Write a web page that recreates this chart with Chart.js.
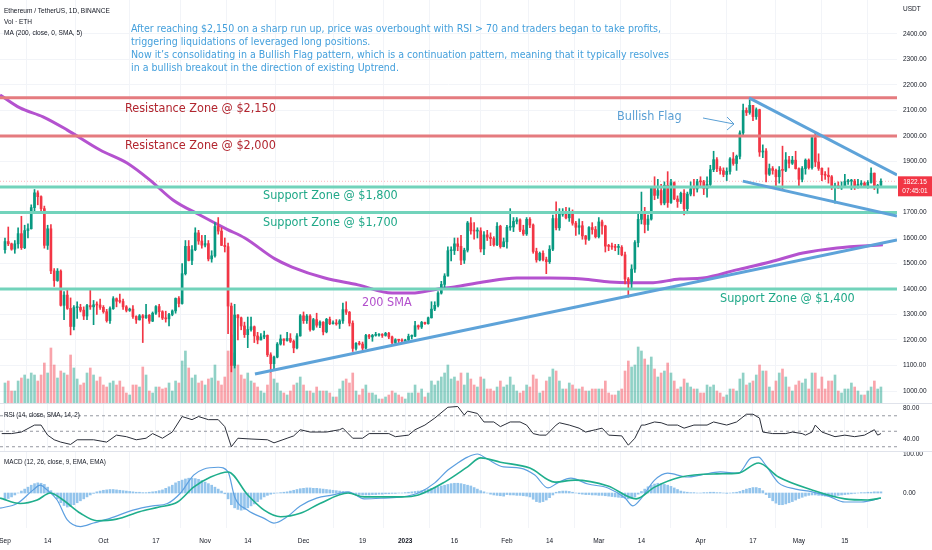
<!DOCTYPE html>
<html>
<head>
<meta charset="utf-8">
<script src="https://cdn.jsdelivr.net/npm/chart.js@4.4.1/dist/chart.umd.min.js"></script>
<style>
html,body{margin:0;padding:0;background:#fff;width:932px;height:550px;overflow:hidden}
.pane{position:absolute;left:0;width:932px}
#p1{top:0;height:403px}
#p2{top:403px;height:48px}
#p3{top:451px;height:99px}
.sep{position:absolute;left:0;width:932px;height:1px;background:#e0e3eb}
</style>
</head>
<body>
<div class="pane" id="p1"><canvas id="c1"></canvas></div>
<div class="pane" id="p2"><canvas id="c2"></canvas></div>
<div class="pane" id="p3"><canvas id="c3"></canvas></div>
<div class="sep" style="top:403px"></div>
<div class="sep" style="top:451px"></div>
<script>
// ---------------- DATA (ETH/USDT daily, 1 Sep 2022 = day 0 ... 26 May 2023 = day 267) ----------------
const firstOpen = 1554;
const closes = [
// Sep
1586,1577,1556,1577,1617,1562,1629,1636,1719,1777,1762,1715,1571,1636,1471,1433,1470,1336,1376,1324,1253,1327,1328,1317,1294,1335,1330,1338,1337,1328,
// Oct
1311,1276,1323,1362,1352,1351,1330,1316,1321,1292,1279,1295,1287,1297,1274,1305,1331,1311,1286,1283,1300,1314,1363,1343,1460,1567,1512,1554,1620,1588,1572,
// Nov
1578,1518,1530,1645,1627,1571,1566,1333,1100,1298,1287,1255,1221,1241,1252,1216,1200,1212,1218,1142,1107,1133,1184,1204,1198,1206,1195,1169,1216,1295,
// Dec
1276,1294,1241,1280,1258,1270,1232,1281,1264,1265,1263,1275,1319,1309,1266,1167,1187,1184,1168,1218,1212,1218,1219,1221,1218,1226,1212,1190,1201,1199,1196,
// Jan
1200,1214,1215,1256,1251,1269,1264,1287,1321,1336,1384,1418,1451,1550,1551,1577,1567,1513,1552,1659,1628,1627,1628,1557,1612,1603,1598,1573,1646,1566,1585,
// Feb
1642,1643,1665,1671,1631,1616,1673,1651,1547,1514,1540,1515,1507,1556,1676,1640,1693,1693,1679,1702,1658,1642,1648,1608,1595,1641,1633,1605,
// Mar
1663,1647,1568,1567,1565,1563,1563,1534,1439,1430,1478,1582,1673,1702,1653,1674,1796,1767,1786,1737,1806,1739,1817,1753,1743,1775,1715,1772,1793,1792,1821,
// Apr
1820,1793,1810,1868,1907,1872,1864,1849,1861,1910,1892,1920,2012,2100,2092,2120,2076,2103,1937,1941,1850,1872,1865,1840,1866,1865,1906,1893,1905,1872,
// May
1830,1872,1905,1876,1993,1898,1873,1848,1846,1840,1798,1805,1796,1802,1821,1823,1823,1801,1810,1815,1804,1818,1854,1800,1806,1822
];
const highs = [
1600,1643,1580,1590,1640,1685,1650,1655,1730,1790,1785,1765,1725,1650,1653,1480,1480,1475,1390,1400,1365,1335,1350,1340,1330,1340,1400,1355,1350,1360,
1335,1320,1330,1370,1365,1380,1360,1335,1325,1335,1295,1300,1300,1340,1300,1310,1335,1340,1315,1313,1305,1318,1365,1370,1500,1590,1590,1570,1640,1630,1610,
1610,1590,1550,1660,1680,1640,1600,1580,1345,1340,1300,1290,1270,1290,1290,1255,1230,1225,1235,1220,1150,1137,1190,1220,1205,1230,1225,1200,1225,1300,
1310,1300,1300,1285,1305,1275,1272,1285,1290,1275,1280,1280,1345,1350,1312,1275,1190,1195,1192,1222,1222,1222,1230,1225,1225,1230,1230,1215,1205,1203,1205,
1203,1223,1220,1273,1259,1273,1270,1290,1350,1350,1390,1430,1460,1565,1565,1600,1600,1610,1560,1665,1680,1660,1640,1640,1625,1630,1620,1605,1660,1650,1600,
1650,1715,1680,1680,1675,1650,1680,1680,1655,1560,1545,1550,1525,1570,1690,1742,1715,1715,1720,1718,1710,1665,1675,1665,1610,1645,1660,1645,
1680,1670,1650,1575,1580,1575,1575,1570,1545,1445,1495,1590,1700,1780,1720,1690,1800,1840,1830,1810,1820,1860,1830,1820,1765,1780,1790,1780,1820,1830,1830,
1840,1826,1840,1885,1940,1915,1880,1875,1875,1915,1935,1925,2020,2125,2110,2141,2120,2110,2105,1965,1950,1890,1880,1870,1880,1960,1935,1920,1920,1940,
1875,1880,1910,1910,2000,2015,1930,1875,1860,1875,1845,1815,1820,1820,1850,1830,1830,1830,1830,1825,1820,1825,1875,1855,1810,1832
];
const lows = [
1540,1570,1552,1540,1560,1555,1558,1600,1635,1705,1730,1700,1560,1555,1460,1410,1430,1333,1280,1320,1220,1240,1285,1310,1280,1280,1320,1260,1300,1320,
1305,1270,1265,1320,1330,1345,1320,1310,1312,1285,1265,1278,1190,1285,1265,1272,1300,1290,1280,1270,1255,1295,1305,1330,1340,1455,1510,1495,1550,1575,1560,
1565,1510,1505,1525,1615,1570,1545,1225,1075,1090,1200,1240,1210,1170,1235,1190,1185,1200,1205,1135,1073,1085,1130,1180,1180,1195,1190,1150,1165,1215,
1265,1265,1235,1238,1250,1248,1220,1228,1260,1262,1258,1245,1265,1300,1255,1155,1160,1180,1160,1165,1205,1195,1215,1215,1210,1215,1205,1185,1185,1190,1192,
1192,1193,1204,1213,1242,1245,1261,1262,1286,1315,1330,1380,1400,1450,1510,1535,1550,1495,1500,1545,1615,1595,1600,1545,1535,1590,1570,1568,1570,1560,1565,
1560,1630,1625,1655,1625,1610,1610,1640,1540,1505,1510,1510,1460,1500,1550,1632,1630,1685,1675,1665,1650,1610,1615,1595,1575,1590,1615,1600,
1600,1615,1545,1550,1555,1550,1535,1530,1420,1368,1405,1465,1565,1655,1620,1630,1670,1750,1755,1730,1730,1720,1735,1750,1720,1735,1690,1695,1765,1765,1780,
1805,1770,1760,1800,1860,1860,1850,1840,1825,1850,1885,1865,1910,2000,2080,2085,2060,2065,1920,1915,1820,1845,1850,1800,1815,1790,1860,1875,1888,1870,
1800,1820,1850,1870,1870,1880,1865,1825,1830,1815,1790,1736,1795,1790,1800,1810,1790,1790,1795,1805,1800,1795,1815,1790,1775,1800
];
// relative daily volume (units of 25k ETH)
const volumes = [
20,22,12,12,22,25,28,24,30,28,22,28,40,30,55,38,25,32,30,28,48,35,24,18,20,30,35,28,22,26,
18,16,20,22,18,22,16,10,8,18,18,16,36,28,12,10,16,16,14,15,20,12,22,20,42,52,35,25,28,20,22,
18,24,25,38,22,18,26,52,68,50,38,28,24,30,22,20,16,12,10,18,30,24,20,12,10,8,12,18,20,26,
18,12,12,10,16,12,12,12,10,6,6,14,22,24,20,30,12,8,14,18,10,10,8,4,4,6,8,12,10,8,6,
4,10,10,18,10,14,6,10,22,18,22,26,30,38,24,26,22,30,18,30,24,18,16,26,24,14,14,12,16,22,16,
18,26,18,12,10,12,18,16,28,24,10,12,22,26,34,32,22,14,14,20,18,14,14,16,12,12,14,14,
14,14,22,10,8,8,12,14,32,42,36,38,56,52,44,38,46,34,26,30,32,40,30,22,14,16,24,20,16,14,14,
10,10,18,16,18,12,10,6,8,14,14,12,24,30,18,20,22,28,38,32,32,16,12,22,30,34,26,16,12,18,
22,20,24,14,30,30,14,26,14,22,22,28,12,10,14,14,20,16,12,8,8,12,16,22,14,16
];
// MACD histogram, daily
const macdHist = [
-18,-14,-10,-5,0,5,10,15,20,24,26,25,22,15,6,-5,-15,-25,-32,-36,-35,-30,-25,-20,-15,-10,-5,-1,3,5,
7,8,9,9,8,7,6,5,4,3,2,2,1,1,2,3,4,6,8,12,16,20,26,30,33,36,38,38,37,35,32,
28,24,20,15,10,5,-2,-15,-30,-38,-42,-44,-42,-38,-33,-28,-22,-16,-10,-6,-3,-1,0,1,2,3,5,7,9,11,
12,13,13,12,12,11,10,9,8,7,6,5,4,3,2,0,-2,-4,-5,-5,-5,-4,-4,-3,-3,-2,-2,-1,-1,0,0,
1,2,3,4,5,6,8,10,12,14,16,18,20,22,24,25,25,24,22,20,18,14,10,6,3,0,-3,-5,-6,-7,-8,
-4,-5,-5,-6,-6,-7,-8,-10,-16,-22,-24,-22,-18,-12,-5,2,4,5,5,4,2,0,-2,-3,-4,-4,-5,-5,
-6,-6,-7,-8,-9,-10,-11,-12,-13,-15,-14,-10,-3,4,10,16,20,23,25,24,22,20,17,13,9,5,3,2,1,1,0,
0,1,1,2,2,1,1,0,-1,0,1,2,4,7,10,12,14,14,12,6,-4,-12,-20,-26,-30,-30,-28,-25,-22,-18,
-14,-11,-8,-6,-5,-5,-6,-7,-8,-8,-8,-7,-6,-5,-4,-3,-2,-1,0,1,1,2,2,3,3,3
];
// 200-day SMA read at chart positions (day, value)
const smaDays   = [-1.5,4.6,11.6,18.9,29,37.2,44.2,51.2,59.4,67.7,73.1,82.3,87.5,97.5,107.6,118,124,132,137,145.7,156,166,176,184.4,190.5,196.6,205.7,212.7,223,233.2,243.2,253.6,267.6];
const smaValues = [2161,2110,2075,2024,1945,1894,1827,1749,1690,1634,1600,1518,1486,1443,1416,1384,1384,1400,1408,1427,1443,1443,1439,1427,1424,1424,1439,1443,1475,1506,1541,1561,1573];
// RSI (14)
const rsiDays = [-1,2,5,9,11,13,15,17,20,22,27,31,34,37,40,43,45,48,51,54,57,59,62,65,67,69,71,75,80,82,86,88,90,93,98,102,103,106,109,111,117,119,123,125,128,131,135,138,140,141,144,146,149,151,154,157,159,161,163,165,168,169,172,175,177,180,182,184,188,190,192,194,195,198,200,202,205,207,210,214,216,220,223,226,228,230,231,234,238,240,243,244,246,247,249,253,256,259,262,265,266,267];
const rsiValues = [47,47,49,58,58,45,39,36,33,39,39,36,45,43,39,41,47,41,49,69,65,69,65,65,56,30,41,40,39,35,41,44,52,49,49,52,54,41,41,47,47,43,45,52,58,67,81,82,71,76,73,62,62,56,62,62,58,47,45,45,58,61,58,54,49,52,54,45,44,32,41,58,58,62,61,58,58,54,58,58,62,58,62,72,72,67,49,47,47,49,47,45,49,58,49,43,45,43,45,52,45,47];
// MACD line and signal line
const macdDays   = [-1.5,3.7,8.6,10.7,12.8,15.9,19,23,27,32,39,45,49.5,53.5,57.5,60.5,65,68,70,74,79,82,86,90,95,100,104.6,109.5,115.6,121,126,131,135,138,141,144,147,152,157,161.5,165.5,168.5,172.5,177.7,183.8,189,191.4,194,198,202,208,212,218,223.5,227.5,229.7,231.8,235.8,241,246,251,256,261,267];
const macdValues = [-39,-27,8,20,8,-18,-69,-86,-77,-65,-44,-33,-27,0,46,61,66,54,-10,-44,-65,-77,-61,-33,-13,-5,3,-15,-13,-10,0,26,59,77,92,100,87,67,64,46,13,26,38,23,13,-13,-33,-13,33,51,41,46,54,51,90,92,72,26,10,3,-8,-23,-23,-13];
const signalDays   = [-1.5,4.6,9.8,13.8,17.7,23,28,34,41,47,52.6,57.5,62.7,68,74,79,84,90,96,104.6,109.5,121,126,134,141,145,151,160,167.6,173.7,183.8,192.4,198,206,217,223.5,229.7,235.8,246,256,263,267];
const signalValues = [-13,-27,-18,0,-18,-52,-71,-67,-48,-36,-23,15,41,54,-5,-44,-61,-52,-27,0,-10,-10,-5,28,67,90,79,64,28,33,18,-15,15,41,49,51,77,41,8,-15,-18,-13];
// Drawn levels and trendlines
const resistanceLevels = [2150, 2000];
const supportLevels = [1800, 1700, 1400];
const lastPrice = 1822.15;
const uptrendDays = [76.2, 271.9],   uptrendPrices = [1067, 1592];
const flagTopDays = [226.8, 271.9],  flagTopPrices = [2149, 1847];
const flagLowDays = [224.9, 271.9],  flagLowPrices = [1823, 1686];
// Axis ticks
const priceTicks = [1000,1100,1200,1300,1400,1500,1600,1700,1800,1900,2000,2100,2200,2300,2400];
const rsiTicks = [40, 80];
const rsiBands = [70, 50, 30];
const macdTicks = [0, 100];
const timeTickDays   = [0,13,30,46,61,74,91,109,122,137,153,166,181,194,212,228,242,256];
const timeTickLabels = ['Sep','14','Oct','17','Nov','14','Dec','19','2023','16','Feb','14','Mar','14','Apr','17','May','15'];
const noteLines = [
 'After reaching $2,150 on a sharp run up, price was overbought with RSI > 70 and traders began to take profits,',
 'triggering liquidations of leveraged long positions.',
 'Now it\u2019s consolidating in a Bullish Flag pattern, which is a continuation pattern, meaning that it typically resolves',
 'in a bullish breakout in the direction of existing Uptrend.'
];

// ---------------- STYLE ----------------
const X_MIN = -1.52, X_MAX = 271.9;
const AXIS_FONT = "'Liberation Sans', Arial, sans-serif";
const NOTE_FONT = "'Liberation Sans Narrow', 'DejaVu Sans Condensed', sans-serif";
const GREEN = '#089981', RED = '#f23645';
const GRID = '#f2f4f8';

const days = closes.map((_, i) => i);
const opens = closes.map((c, i) => i === 0 ? firstOpen : closes[i - 1]);
const isUp = closes.map((c, i) => c >= opens[i]);

function pairs(xs, ys) { return xs.map((x, i) => ({x: x, y: ys[i]})); }
function hline(v) { return [{x: X_MIN, y: v}, {x: X_MAX, y: v}]; }

function xScale(showLabels) {
  return {
    type: 'linear', min: X_MIN, max: X_MAX, offset: false, display: true,
    afterBuildTicks: s => { s.ticks = timeTickDays.map(v => ({value: v})); },
    afterFit: s => { s.height = showLabels ? 22 : 0; s.paddingLeft = 0; s.paddingRight = 0; },
    grid: {color: GRID, drawTicks: false, lineWidth: 1},
    border: {display: false},
    ticks: {
      display: showLabels, autoSkip: false, maxRotation: 0, minRotation: 0, padding: 9, color: '#131722',
      font: c => ({family: AXIS_FONT, size: 6.5, weight: (c.tick && c.tick.value === 122) ? 'bold' : 'normal'}),
      callback: v => { const i = timeTickDays.indexOf(v); return i >= 0 ? timeTickLabels[i] : ''; }
    }
  };
}
function yScale(min, max, ticks, showGrid) {
  return {
    type: 'linear', position: 'right', min: min, max: max,
    afterBuildTicks: s => { s.ticks = ticks.map(v => ({value: v})); },
    afterFit: s => { s.width = 35; s.paddingTop = 0; s.paddingBottom = 0; },
    grid: {display: showGrid, color: GRID, drawTicks: false},
    border: {display: false},
    ticks: {padding: 6, color: '#131722', font: {family: AXIS_FONT, size: 6.5}, callback: v => Number(v).toFixed(2)}
  };
}
const baseOpts = {
  responsive: true, maintainAspectRatio: false, animation: false, events: [],
  layout: {padding: 0},
  plugins: {legend: {display: false}, tooltip: {enabled: false}}
};

function fitSize(ctx, text, family, weight, w) {
  ctx.font = weight + ' 100px ' + family;
  return 100 * w / ctx.measureText(text).width;
}
function txt(ctx, text, x, y, size, family, weight, color, align) {
  ctx.font = weight + ' ' + size + 'px ' + family;
  ctx.fillStyle = color; ctx.textBaseline = 'middle'; ctx.textAlign = align || 'left';
  ctx.fillText(text, x, y);
}

// ---------------- PRICE PANE ----------------
const pricePlugin = {
  id: 'priceText',
  afterDraw(chart) {
    const ctx = chart.ctx; ctx.save();
    const hs = fitSize(ctx, 'Ethereum / TetherUS, 1D, BINANCE', AXIS_FONT, 'normal', 106);
    txt(ctx, 'Ethereum / TetherUS, 1D, BINANCE', 4, 11, hs, AXIS_FONT, 'normal', '#131722');
    txt(ctx, 'Vol \u00b7 ETH', 4, 22, hs, AXIS_FONT, 'normal', '#131722');
    txt(ctx, 'MA (200, close, 0, SMA, 5)', 4, 33, hs, AXIS_FONT, 'normal', '#131722');
    const ns = fitSize(ctx, noteLines[0], NOTE_FONT, 'normal', 531);
    const ny = [29, 42, 55, 68];
    noteLines.forEach((t, i) => txt(ctx, t, 131, ny[i], ns, NOTE_FONT, 'normal', '#45a0dc'));
    const zs = fitSize(ctx, 'Resistance Zone @ $2,150', NOTE_FONT, 'normal', 151);
    txt(ctx, 'Resistance Zone @ $2,150', 125, 109, zs, NOTE_FONT, 'normal', '#b2262f');
    txt(ctx, 'Resistance Zone @ $2,000', 125, 146, zs, NOTE_FONT, 'normal', '#b2262f');
    txt(ctx, 'Support Zone @ $1,800', 263, 196, zs, NOTE_FONT, 'normal', '#1fa888');
    txt(ctx, 'Support Zone @ $1,700', 263, 223, zs, NOTE_FONT, 'normal', '#1fa888');
    txt(ctx, 'Support Zone @ $1,400', 720, 299, zs, NOTE_FONT, 'normal', '#1fa888');
    txt(ctx, '200 SMA', 362, 303, zs, NOTE_FONT, 'normal', '#b24fcc');
    txt(ctx, 'Bullish Flag', 617, 117, zs, NOTE_FONT, 'normal', '#5a9fd4');
    // arrow
    ctx.strokeStyle = '#5a9fd4'; ctx.lineWidth = 1;
    ctx.beginPath(); ctx.moveTo(703, 118); ctx.lineTo(734, 124);
    ctx.moveTo(727, 117); ctx.lineTo(734, 124); ctx.lineTo(727, 130); ctx.stroke();
    // axis unit
    txt(ctx, 'USDT', 903, 9, 6.5, AXIS_FONT, 'normal', '#131722');
    // last price tag
    const y = chart.scales.y.getPixelForValue(lastPrice);
    ctx.fillStyle = RED; ctx.fillRect(898, y - 5, 34, 20);
    txt(ctx, lastPrice.toFixed(2), 915, y + 1, 6.5, AXIS_FONT, 'normal', '#fff', 'center');
    txt(ctx, '07:45:01', 915, y + 9.5, 6.5, AXIS_FONT, 'normal', '#fff', 'center');
    ctx.restore();
  }
};

const priceDatasets = [
  {type: 'bar', label: 'vol', yAxisID: 'yVol', grouped: false, barThickness: 2, order: 10,
   data: pairs(days, volumes), backgroundColor: isUp.map(u => u ? 'rgba(8,153,129,0.45)' : 'rgba(242,54,69,0.45)')},
  {type: 'bar', label: 'wick', yAxisID: 'y', grouped: false, barThickness: 1, order: 5,
   data: days.map(i => ({x: i, y: [Math.min(lows[i], opens[i], closes[i]), Math.max(highs[i], opens[i], closes[i])]})),
   backgroundColor: isUp.map(u => u ? GREEN : RED)},
  {type: 'bar', label: 'body', yAxisID: 'y', grouped: false, barThickness: 2, minBarLength: 1, order: 4,
   data: days.map(i => ({x: i, y: [opens[i], closes[i]]})),
   backgroundColor: isUp.map(u => u ? GREEN : RED)},
  {type: 'line', label: 'sma', yAxisID: 'y', order: 6, data: pairs(smaDays, smaValues),
   borderColor: '#b452cf', borderWidth: 3, pointRadius: 0, tension: 0.4, cubicInterpolationMode: 'monotone', fill: false},
  {type: 'line', label: 'last', yAxisID: 'y', order: 8, data: hline(lastPrice),
   borderColor: 'rgba(242,54,69,0.35)', borderWidth: 1, borderDash: [1, 2], pointRadius: 0, fill: false},
  {type: 'line', label: 'up', yAxisID: 'y', order: 2, data: pairs(uptrendDays, uptrendPrices),
   borderColor: '#5ea3d9', borderWidth: 3, pointRadius: 0, fill: false},
  {type: 'line', label: 'flagTop', yAxisID: 'y', order: 2, data: pairs(flagTopDays, flagTopPrices),
   borderColor: '#5ea3d9', borderWidth: 3, pointRadius: 0, fill: false},
  {type: 'line', label: 'flagLow', yAxisID: 'y', order: 2, data: pairs(flagLowDays, flagLowPrices),
   borderColor: '#5ea3d9', borderWidth: 3, pointRadius: 0, fill: false}
];
resistanceLevels.forEach(v => priceDatasets.push({type: 'line', yAxisID: 'y', order: 3, data: hline(v),
  borderColor: '#e57b7f', borderWidth: 3, pointRadius: 0, fill: false}));
supportLevels.forEach(v => priceDatasets.push({type: 'line', yAxisID: 'y', order: 3, data: hline(v),
  borderColor: '#72d3bb', borderWidth: 3, pointRadius: 0, fill: false}));

new Chart(document.getElementById('c1'), {
  type: 'bar',
  data: {datasets: priceDatasets},
  options: Object.assign({}, baseOpts, {
    scales: {
      x: xScale(false),
      y: yScale(953, 2533, priceTicks, true),
      yVol: {type: 'linear', display: false, min: 0, max: 403}
    }
  }),
  plugins: [pricePlugin]
});

// ---------------- RSI PANE ----------------
const rsiDatasets = [
  {type: 'line', data: pairs(rsiDays, rsiValues), borderColor: '#2a2e39', borderWidth: 1, pointRadius: 0, fill: false, order: 1}
];
rsiBands.forEach(v => rsiDatasets.push({type: 'line', data: hline(v), borderColor: '#9598a1', borderWidth: 1,
  borderDash: [3, 3], pointRadius: 0, fill: false, order: 2}));
new Chart(document.getElementById('c2'), {
  type: 'line',
  data: {datasets: rsiDatasets},
  options: Object.assign({}, baseOpts, {
    scales: {x: xScale(false), y: yScale(24.5, 86.5, rsiTicks, false)}
  }),
  plugins: [{id: 'rsiTitle', afterDraw(chart) {
    const ctx = chart.ctx; ctx.save();
    const s = fitSize(ctx, 'RSI (14, close, SMA, 14, 2)', AXIS_FONT, 'normal', 76);
    txt(ctx, 'RSI (14, close, SMA, 14, 2)', 4, 12, s, AXIS_FONT, 'normal', '#131722');
    ctx.restore();
  }}]
});

// ---------------- MACD PANE ----------------
new Chart(document.getElementById('c3'), {
  type: 'bar',
  data: {datasets: [
    {type: 'line', data: pairs(macdDays, macdValues), borderColor: '#5c9fe0', borderWidth: 1.2, pointRadius: 0,
     tension: 0.3, cubicInterpolationMode: 'monotone', fill: false, order: 2},
    {type: 'line', data: pairs(signalDays, signalValues), borderColor: '#1fae8c', borderWidth: 1.6, pointRadius: 0,
     tension: 0.3, cubicInterpolationMode: 'monotone', fill: false, order: 1},
    {type: 'bar', data: pairs(days, macdHist), backgroundColor: '#93c4ec', barThickness: 2, grouped: false, order: 3}
  ]},
  options: Object.assign({}, baseOpts, {
    scales: {x: xScale(true), y: yScale(-89.7, 107.7, macdTicks, false)}
  }),
  plugins: [{id: 'macdTitle', afterDraw(chart) {
    const ctx = chart.ctx; ctx.save();
    const s = fitSize(ctx, 'MACD (12, 26, close, 9, EMA, EMA)', AXIS_FONT, 'normal', 102);
    txt(ctx, 'MACD (12, 26, close, 9, EMA, EMA)', 4, 11, s, AXIS_FONT, 'normal', '#131722');
    ctx.restore();
  }}]
});
</script>
</body>
</html>
